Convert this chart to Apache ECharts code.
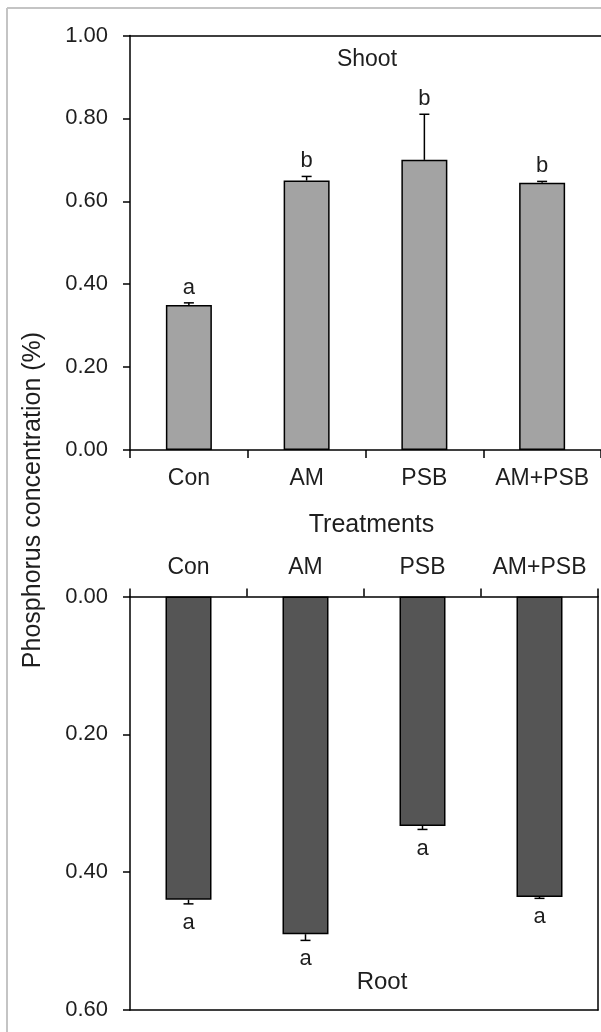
<!DOCTYPE html>
<html>
<head>
<meta charset="utf-8">
<script src="https://cdn.jsdelivr.net/npm/echarts@6/dist/echarts.min.js"></script>
<style>
html,body{margin:0;padding:0;background:#fff;}
#chart{width:601px;height:1032px;}
</style>
</head>
<body>
<div id="chart"></div>
<script>
var categories = ['Con', 'AM', 'PSB', 'AM+PSB'];
var shootMean = [0.350, 0.650, 0.700, 0.645];
var shootErr = [0.005, 0.010, 0.110, 0.003];
var shootLetters = ['a', 'b', 'b', 'b'];
var rootMean = [0.440, 0.490, 0.333, 0.436];
var rootErr = [0.006, 0.009, 0.005, 0.002];
var rootLetters = ['a', 'a', 'a', 'a'];

var FONT = 'Liberation Sans';
var TXT = '#1e1e1e';

function errSeries(xi, yi, means, errs, letters, down) {
  return {
    type: 'custom',
    xAxisIndex: xi,
    yAxisIndex: yi,
    z: 5,
    data: means.map(function (m, i) { return [i, m, errs[i]]; }),
    renderItem: function (params, api) {
      var x = api.value(0), m = api.value(1), e = api.value(2);
      var p0 = api.coord([x, m]);
      var p1 = api.coord([x, m + e]);
      var cap = 5;
      var lbl = letters[params.dataIndex];
      return {
        type: 'group',
        children: [
          { type: 'line', shape: { x1: p0[0], y1: p0[1], x2: p1[0], y2: p1[1] }, style: { stroke: '#000', lineWidth: 1.5 } },
          { type: 'line', shape: { x1: p1[0] - cap, y1: p1[1], x2: p1[0] + cap, y2: p1[1] }, style: { stroke: '#000', lineWidth: 1.5 } },
          { type: 'text', x: p1[0], y: down ? p1[1] + 8 : p1[1] - 4,
            style: { text: lbl, fill: TXT, font: '22px ' + FONT, textAlign: 'center', textVerticalAlign: down ? 'top' : 'bottom' } }
        ]
      };
    }
  };
}

var lineStyle = { color: '#000', width: 1.5 };
var catTick = { show: true, alignWithLabel: false, interval: 0, inside: false, length: 8, lineStyle: lineStyle };
var chart = echarts.init(document.getElementById('chart'), null, { renderer: 'canvas' });
chart.setOption({
  animation: false,
  backgroundColor: '#fff',
  textStyle: { fontFamily: FONT },
  grid: [
    { left: 130, top: 35.5, width: 473, height: 414.5 },
    { left: 130, top: 596.5, width: 468, height: 413.5 }
  ],
  xAxis: [
    { gridIndex: 0, type: 'category', data: categories, position: 'bottom', boundaryGap: true,
      axisLine: { onZero: false, lineStyle: lineStyle },
      axisTick: catTick,
      axisLabel: { interval: 0, color: TXT, fontSize: 23, fontFamily: FONT, margin: 17 },
      name: 'Treatments', nameLocation: 'middle', nameGap: 63,
      nameTextStyle: { color: TXT, fontSize: 25, fontFamily: FONT, padding: [0, 0, 0, 12] } },
    { gridIndex: 0, type: 'category', data: categories, position: 'top',
      axisLine: { onZero: false, lineStyle: lineStyle },
      axisTick: { show: false }, axisLabel: { show: false } },
    { gridIndex: 1, type: 'category', data: categories, position: 'top', boundaryGap: true,
      axisLine: { onZero: false, lineStyle: lineStyle },
      axisTick: catTick,
      axisLabel: { interval: 0, color: TXT, fontSize: 23, fontFamily: FONT, margin: 17 } },
    { gridIndex: 1, type: 'category', data: categories, position: 'bottom',
      axisLine: { onZero: false, lineStyle: lineStyle },
      axisTick: { show: false }, axisLabel: { show: false } }
  ],
  yAxis: [
    { gridIndex: 0, type: 'value', min: 0, max: 1, interval: 0.2,
      axisLine: { show: true, onZero: false, lineStyle: lineStyle },
      axisTick: { show: true, length: 7, lineStyle: lineStyle },
      splitLine: { show: false },
      axisLabel: { color: TXT, fontSize: 22, fontFamily: FONT, margin: 22,
        formatter: function (v) { return v.toFixed(2); } } },
    { gridIndex: 1, type: 'value', min: 0, max: 0.6, interval: 0.2, inverse: true,
      axisLine: { show: true, onZero: false, lineStyle: lineStyle },
      axisTick: { show: true, length: 7, lineStyle: lineStyle },
      splitLine: { show: false },
      axisLabel: { color: TXT, fontSize: 22, fontFamily: FONT, margin: 22,
        formatter: function (v) { return v.toFixed(2); } } },
    { gridIndex: 1, type: 'value', min: 0, max: 0.6, interval: 0.2, inverse: true, position: 'right',
      axisLine: { show: true, onZero: false, lineStyle: lineStyle },
      axisTick: { show: false }, axisLabel: { show: false }, splitLine: { show: false } }
  ],
  series: [
    { type: 'bar', xAxisIndex: 0, yAxisIndex: 0, data: shootMean, barWidth: 46,
      itemStyle: { color: '#a3a3a3', borderColor: '#000', borderWidth: 1.5 } },
    errSeries(0, 0, shootMean, shootErr, shootLetters, false),
    { type: 'bar', xAxisIndex: 2, yAxisIndex: 1, data: rootMean, barWidth: 46,
      itemStyle: { color: '#555555', borderColor: '#000', borderWidth: 1.5 } },
    errSeries(2, 1, rootMean, rootErr, rootLetters, true)
  ],
  graphic: [
    { type: 'line', shape: { x1: 7, y1: 8, x2: 7, y2: 1032 }, style: { stroke: '#c4c4c4', lineWidth: 2 } },
    { type: 'line', shape: { x1: 7, y1: 8, x2: 601, y2: 8 }, style: { stroke: '#c4c4c4', lineWidth: 2 } },
    { type: 'text', x: 367, y: 60, style: { text: 'Shoot', fill: TXT, font: '23px ' + FONT, textAlign: 'center', textVerticalAlign: 'middle' } },
    { type: 'text', x: 382, y: 982, style: { text: 'Root', fill: TXT, font: '24px ' + FONT, textAlign: 'center', textVerticalAlign: 'middle' } },
    { type: 'text', x: 33, y: 500, rotation: Math.PI / 2,
      style: { text: 'Phosphorus concentration (%)', fill: TXT, font: '25px ' + FONT, textAlign: 'center', textVerticalAlign: 'middle' } }
  ]
});
</script>
</body>
</html>
